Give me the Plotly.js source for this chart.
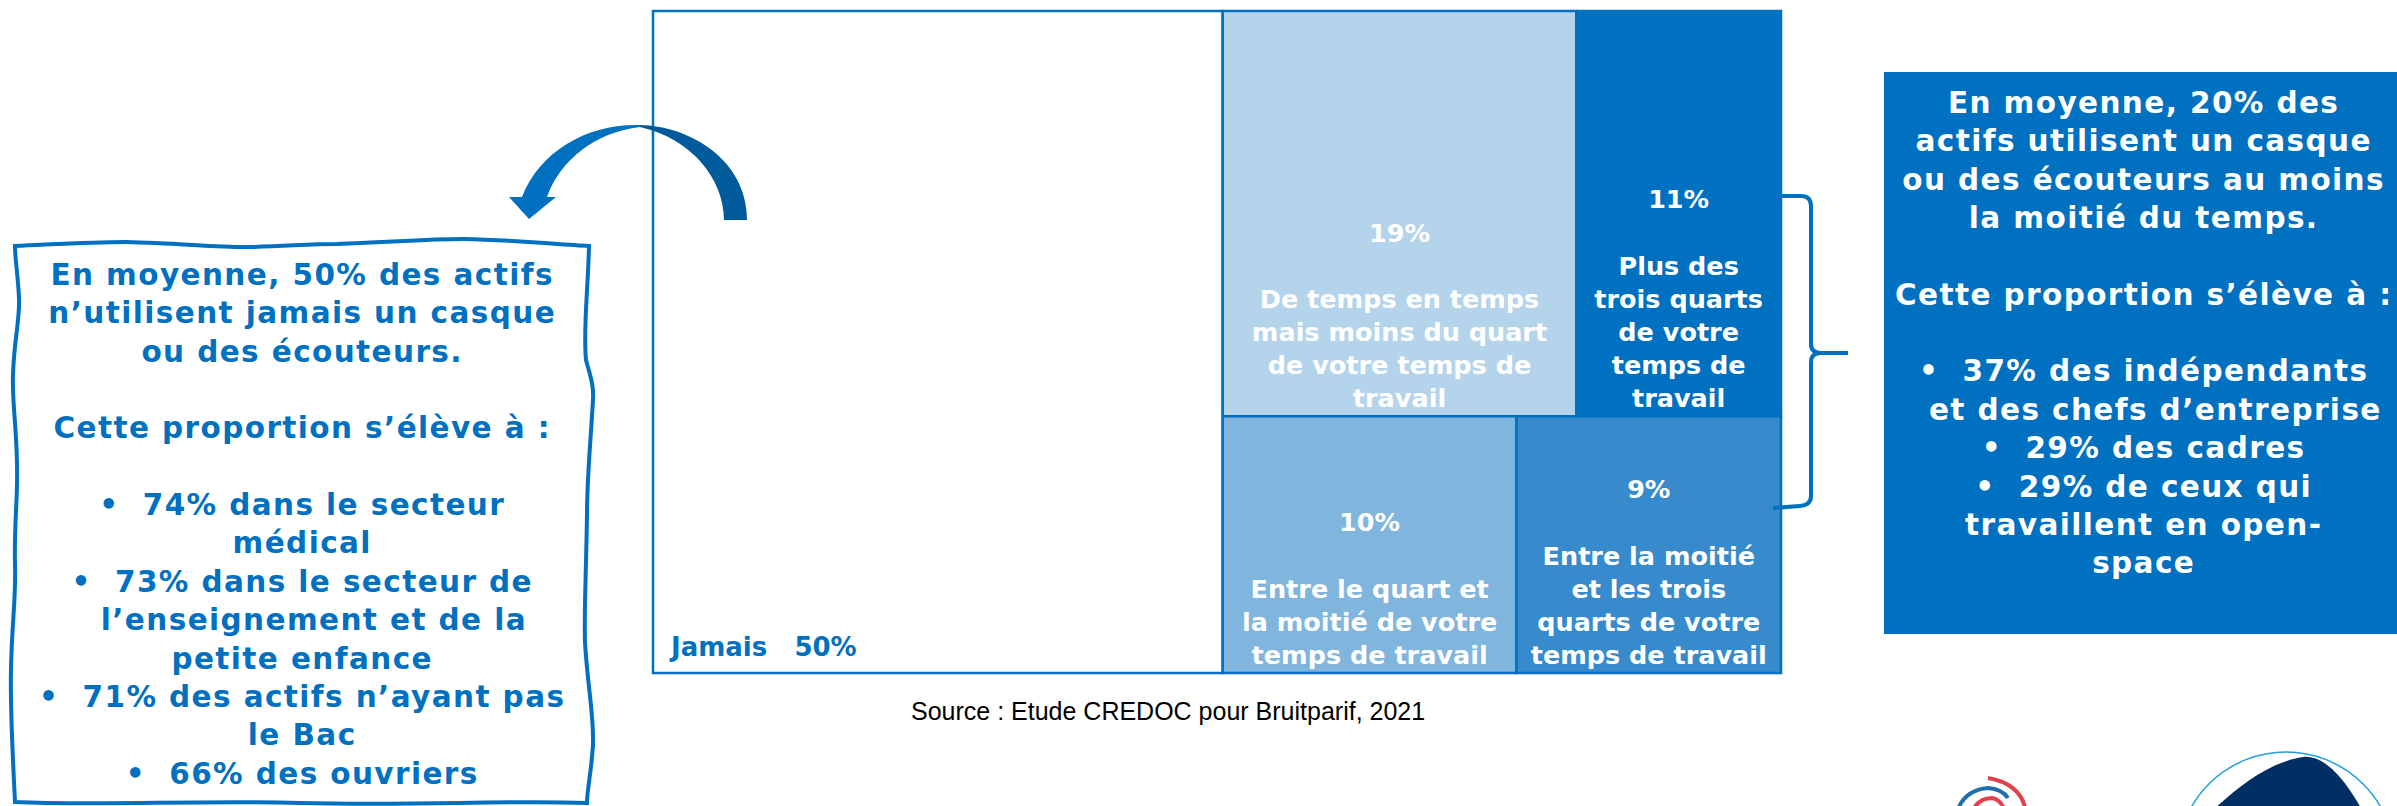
<!DOCTYPE html>
<html>
<head>
<meta charset="utf-8">
<script src="https://cdn.plot.ly/plotly-3.0.1.min.js"></script>
<style>html,body{margin:0;padding:0;background:#fff;}#chart{width:2397px;height:806px;}</style>
</head>
<body>
<div id="chart"></div>
<script>
// ---- data ----
const categories = [
  "Jamais",
  "De temps en temps<br>mais moins du quart<br>de votre temps de<br>travail",
  "Plus des<br>trois quarts<br>de votre<br>temps de<br>travail",
  "Entre le quart et<br>la moitié de votre<br>temps de travail",
  "Entre la moitié<br>et les trois<br>quarts de votre<br>temps de travail"
];
const values = [50, 19, 11, 10, 9];
const boxColors = ["#FFFFFF", "#B4D4EC", "#0070C0", "#80B5DE", "#378ACB"];

const leftLines = [
  "En moyenne, 50% des actifs",
  "n’utilisent jamais un casque",
  "ou des écouteurs.",
  "",
  "Cette proportion s’élève à :",
  "",
  "•  74% dans le secteur",
  "médical",
  "•  73% dans le secteur de",
  "  l’enseignement et de la",
  "petite enfance",
  "•  71% des actifs n’ayant pas",
  "le Bac",
  "•  66% des ouvriers"
];
const rightLines = [
  "En moyenne, 20% des",
  "actifs utilisent un casque",
  "ou des écouteurs au moins",
  "la moitié du temps.",
  "",
  "Cette proportion s’élève à :",
  "",
  "•  37% des indépendants",
  "  et des chefs d’entreprise",
  "•  29% des cadres",
  "•  29% de ceux qui",
  "travaillent en open-",
  "space"
];
const sourceText = "Source : Etude CREDOC pour Bruitparif, 2021";

// ---- helpers (pixel -> paper) ----
const W = 2397, H = 806;
const X = x => x / W;
const Y = y => 1 - y / H;
function P(str) {
  return str.replace(/(-?\d+(?:\.\d+)?),(-?\d+(?:\.\d+)?)/g,
    (m, a, b) => X(+a).toFixed(5) + "," + Y(+b).toFixed(5));
}
const LS = "letter-spacing:1.4px";
const wrapLines = lines => lines.map(l =>
  l ? "<b><span style='" + LS + "'>" + l + "</span></b>" : "").join("<br>");

const templates = categories.map((c, i) =>
  i === 0 ? " " : "<b>%{value}%</b><br><br><b>%{label}</b>");

const trace = {
  type: "treemap",
  labels: categories,
  parents: categories.map(() => ""),
  values: values,
  sort: true,
  texttemplate: templates,
  textposition: "bottom center",
  textfont: {family: "DejaVu Sans", size: 25.5, color: "#FFFFFF"},
  marker: {colors: boxColors, line: {color: "#0070C0", width: 2.5},
           pad: {t: 0, l: 0, r: 0, b: 0}},
  tiling: {packing: "squarify", squarifyratio: 1, pad: 0},
  pathbar: {visible: false},
  hoverinfo: "skip",
  domain: {x: [X(653), X(1781)], y: [Y(673), Y(11)]}
};

const blue = "#0070C0";
const shapes = [
  // right info box
  {type: "rect", xref: "paper", yref: "paper", x0: X(1884), x1: X(2400), y0: Y(634), y1: Y(72),
   fillcolor: blue, line: {width: 0}, layer: "below"},
  // wavy left box
  {type: "path", xref: "paper", yref: "paper", layer: "above",
   path: P("M 15,246 C 60,244 90,242 126,242 C 180,243 220,248 252,247 C 290,246 310,244 337,244 C 390,242 430,239 463,239 C 520,240 560,245 589,246 " +
           "C 588,290 583,330 586,360 C 590,375 594,385 593,400 C 590,450 587,480 587,514 C 586,580 584,610 585,643 C 588,690 594,715 593,745 C 591,775 587,790 587,803 " +
           "C 500,800 420,806 300,803 C 200,800 100,806 15,802 " +
           "C 13,760 10,710 11,668 C 12,620 16,600 15,566 C 14,520 18,500 17,463 C 16,420 12,400 13,375 C 14,340 20,320 19,298 C 18,275 15,260 15,246 Z"),
   line: {color: blue, width: 4}, fillcolor: "rgba(0,0,0,0)"},
  // curved arrow: right (darker) part
  {type: "path", xref: "paper", yref: "paper", layer: "above",
   path: P("M 640,125 C 690,126 747,160 747,220 L 724,220 C 724,178 690,138 640,127 Z"),
   fillcolor: "#005A9C", line: {width: 0}},
  // curved arrow: left part with head
  {type: "path", xref: "paper", yref: "paper", layer: "above",
   path: P("M 640,125 C 590,123 540,150 522,197 L 509,197 L 529,219 L 556,197 L 547,197 C 560,160 596,132 640,127 Z"),
   fillcolor: blue, line: {width: 0}},
  // brace
  {type: "path", xref: "paper", yref: "paper", layer: "above",
   path: P("M 1781,196 L 1801,196 Q 1811,196 1811,206 L 1811,344 Q 1811,353 1821,353 L 1848,353 M 1821,353 Q 1811,353 1811,362 L 1811,496 Q 1811,505 1800,506 L 1773,508"),
   line: {color: blue, width: 4}},
  // logo 1 (arcs)
  {type: "path", xref: "paper", yref: "paper", path: P("M 1988,778 Q 2022,784 2026,812"),
   line: {color: "#E2404A", width: 4}},
  {type: "path", xref: "paper", yref: "paper", path: P("M 1957,812 Q 1964,790 1988,788 Q 2002,789 2008,798"),
   line: {color: "#1F6FA8", width: 4}},
  {type: "path", xref: "paper", yref: "paper", path: P("M 1972,812 Q 1978,798 1992,798 Q 2002,800 2005,812"),
   line: {color: "#E2404A", width: 4}},
  // logo 2
  {type: "circle", xref: "paper", yref: "paper", x0: X(2177), x1: X(2395), y0: Y(970), y1: Y(752),
   line: {color: "#1EA0E0", width: 1.5}, fillcolor: "rgba(0,0,0,0)"},
  {type: "path", xref: "paper", yref: "paper",
   path: P("M 2213,810 C 2240,785 2270,762 2303,757 C 2320,755 2340,770 2362,810 Z"),
   fillcolor: "#003063", line: {width: 0}}
];

const annotations = [
  {xref: "paper", yref: "paper", x: X(302), y: Y(524), xanchor: "center", yanchor: "middle",
   text: wrapLines(leftLines),
   showarrow: false, align: "center",
   font: {family: "DejaVu Sans", size: 29.5, color: blue}},
  {xref: "paper", yref: "paper", x: X(2143), y: Y(333), xanchor: "center", yanchor: "middle",
   text: wrapLines(rightLines),
   showarrow: false, align: "center",
   font: {family: "DejaVu Sans", size: 29.5, color: "#FFFFFF"}},
  {xref: "paper", yref: "paper", x: X(667), y: Y(647), xanchor: "left", yanchor: "middle",
   text: "<b>" + categories[0] + "\u00a0\u00a0\u00a0" + values[0] + "%</b>", showarrow: false,
   font: {family: "DejaVu Sans", size: 26, color: blue}},
  {xref: "paper", yref: "paper", x: X(1168), y: Y(711), xanchor: "center", yanchor: "middle",
   text: sourceText, showarrow: false,
   font: {family: "Liberation Sans", size: 25, color: "#000000"}}
];

const layout = {
  width: W, height: H,
  margin: {l: 0, r: 0, t: 0, b: 0},
  paper_bgcolor: "#FFFFFF",
  showlegend: false,
  shapes: shapes,
  annotations: annotations
};

Plotly.newPlot("chart", [trace], layout, {displayModeBar: false, staticPlot: true});
</script>
</body>
</html>
